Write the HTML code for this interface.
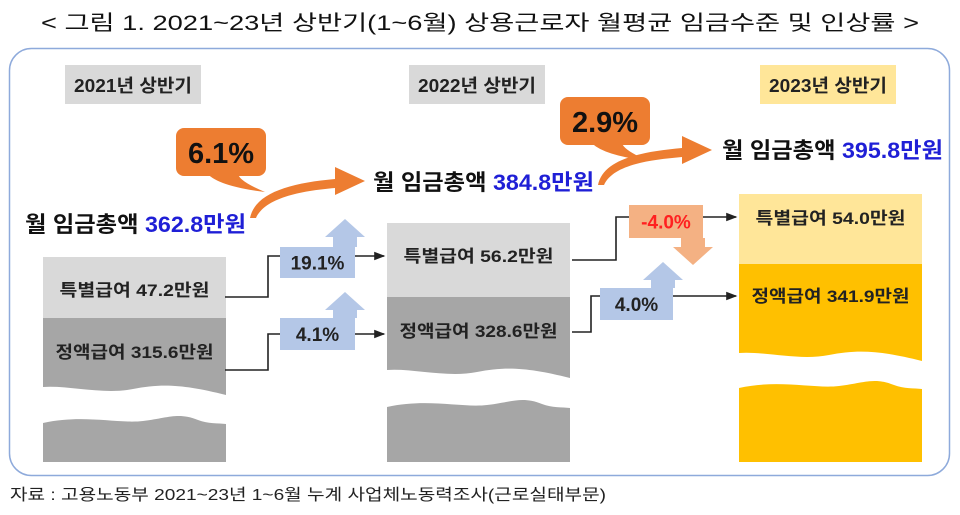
<!DOCTYPE html>
<html><head><meta charset="utf-8"><style>
html,body{margin:0;padding:0;background:#fff;width:960px;height:515px;overflow:hidden}
svg{display:block;font-family:"Liberation Sans","Noto Sans CJK KR",sans-serif}
</style></head><body>
<svg id="chart" width="960" height="515" viewBox="0 0 960 515" xmlns="http://www.w3.org/2000/svg">
<defs>
<marker id="ah" markerWidth="8" markerHeight="8" refX="7" refY="4" orient="auto"><path d="M0,1 L8,4 L0,7 Z" fill="#222"/></marker>
</defs>
<text x="480" y="30" text-anchor="middle" font-size="21" fill="#111" textLength="878" lengthAdjust="spacingAndGlyphs" font-family="'Liberation Sans','WenQuanYi Zen Hei',sans-serif">&lt; 그림 1. 2021~23년 상반기(1~6월) 상용근로자 월평균 임금수준 및 인상률 &gt;</text>
<rect x="9.5" y="48.5" width="940" height="427" rx="22" fill="#fff" stroke="#8eaadb" stroke-width="1.5"/>
<g id="marks"></g>
<text x="10" y="500" font-size="16" fill="#222" textLength="596" lengthAdjust="spacingAndGlyphs" font-family="'Liberation Sans','WenQuanYi Zen Hei',sans-serif">자료 : 고용노동부 2021~23년 1~6월 누계 사업체노동력조사(근로실태부문)</text>
</svg>
<script>
const years = ["2021년 상반기","2022년 상반기","2023년 상반기"];
const totals = [362.8, 384.8, 395.8];
const special = [47.2, 56.2, 54.0];
const regular = [315.6, 328.6, 341.9];
const totalRates = ["6.1%","2.9%"];
const specialRates = ["19.1%","-4.0%"];
const regularRates = ["4.1%","4.0%"];

const NS="http://www.w3.org/2000/svg";
const g=document.getElementById('marks');
function mk(tag,attrs,parent){const e=document.createElementNS(NS,tag);for(const k in attrs)e.setAttribute(k,attrs[k]);(parent||g).appendChild(e);return e;}
function txt(s,attrs){const e=mk('text',attrs);e.textContent=s;return e;}

const colX=[43,387,739], colW=183;
const lblX=[65,409,760];
const lblFill=["#d9d9d9","#d9d9d9","#ffe699"];
const topY=[257,223,194], midY=[318,297,264], waveY=[387,370,353], lowY=[418,402,383];
const lightFill=["#d9d9d9","#d9d9d9","#ffe699"], darkFill=["#a6a6a6","#a6a6a6","#ffc000"];
const totalPos=[[25,232],[373,190],[722,158]];

years.forEach((y,i)=>{
  const lb=mk('rect',{x:lblX[i],y:65,width:136,height:39,fill:lblFill[i]});
  
  
  const lt=txt(y,{x:lblX[i]+68,y:92,'text-anchor':'middle','font-size':18,'font-weight':'bold',fill:'#222',textLength:118,lengthAdjust:'spacingAndGlyphs'});
  
  
  const x=colX[i];
  const sp=mk('rect',{x:x,y:topY[i],width:colW,height:midY[i]-topY[i],fill:lightFill[i]});
  
  
  const w=waveY[i];
  const rg=mk('path',{d:`M${x},${midY[i]} H${x+colW} V${w+8} C${x+colW-40},${w-2} ${x+120},${w-4} ${x+90},${w+2} C${x+60},${w+8} ${x+25},${w-2} ${x},${w} Z`,fill:darkFill[i]});
  
  
  const l=lowY[i];
  const lo=mk('path',{d:`M${x},${l+5} C${x+40},${l-4} ${x+75},${l+6} ${x+100},${l+3} C${x+125},${l} ${x+135},${l-6} ${x+155},${l+2} C${x+165},${l+6} ${x+175},${l+5} ${x+colW},${l+6} V462 H${x} Z`,fill:darkFill[i]});
  
  
  const st=txt(`특별급여 ${special[i].toFixed(1)}만원`,{x:x+colW/2,y:topY[i]+(i==2?30:39),'text-anchor':'middle','font-size':17,'font-weight':'bold',fill:'#222',textLength:150,lengthAdjust:'spacingAndGlyphs'});
  
  
  const rt=txt(`정액급여 ${regular[i].toFixed(1)}만원`,{x:x+colW/2,y:midY[i]+(i==2?38:40),'text-anchor':'middle','font-size':17,'font-weight':'bold',fill:'#222',textLength:158,lengthAdjust:'spacingAndGlyphs'});
  
  
  const tt=mk('text',{x:totalPos[i][0],y:totalPos[i][1],'font-size':22,'font-weight':'bold',fill:'#111',textLength:221,lengthAdjust:'spacingAndGlyphs'});
  
  
  const a=document.createElementNS(NS,'tspan');a.textContent='월 임금총액 ';tt.appendChild(a);
  const b=document.createElementNS(NS,'tspan');b.setAttribute('fill','#1f1fd6');b.textContent=totals[i].toFixed(1)+'만원';tt.appendChild(b);
});

const callX=[176,560], callY=[128,97];
const curve=[[250,218,365,181],[598,185,712,150]];
totalRates.forEach((r,i)=>{
  const [x1,y1,x2,y2]=curve[i];
  const ar=mk('path',{d:`M${x1},${y1} C${x1+5},${y1-25} ${x1+40},${y2+2} ${x2-30},${y2-2} L${x2-30},${y2-14} L${x2},${y2} L${x2-30},${y2+14} L${x2-30},${y2+7} C${x1+50},${y2+10} ${x1+15},${y1-20} ${x1+6},${y1} Z`,fill:'#ed7d31'});
  
  
  const cx=callX[i], cy=callY[i];
  const tail=mk('path',{d:`M${cx+30},${cy+44} Q${cx+40},${cy+58} ${cx+89},${cy+64} Q${cx+60},${cy+52} ${cx+62},${cy+44} Z`,fill:'#ed7d31'});
  
  
  const bx=mk('rect',{x:cx,y:cy,width:90,height:48,rx:8,fill:'#ed7d31'});
  
  
  const t=txt(r,{x:cx+45,y:cy+35,'text-anchor':'middle','font-size':29,'font-weight':'bold',fill:'#111'});
  
  
});

function rateBox(label,bx,by,bw,bh,up,ax,tipY,fill,color,name){
  let p;
  if(up){p=mk('path',{d:`M${ax},${by} V${tipY+18} H${ax-8} L${ax+12},${tipY} L${ax+32},${tipY+18} H${ax+24} V${by} Z`,fill:fill});}
  else{p=mk('path',{d:`M${ax},${by+bh} V${tipY-18} H${ax-8} L${ax+12},${tipY} L${ax+32},${tipY-18} H${ax+24} V${by+bh} Z`,fill:fill});}
  
  
  const r=mk('rect',{x:bx,y:by,width:bw,height:bh,fill:fill});
  
  
  const t=txt(label,{x:bx+bw/2,y:by+bh/2+7,'text-anchor':'middle','font-size':19,'font-weight':'bold',fill:color});
  
  
}
function conn(pts,name){
  const l=mk('polyline',{points:pts,fill:'none',stroke:'#222','stroke-width':1.6});
  
  
}
function arrowLine(x1,y,x2,name){
  const l=mk('line',{x1:x1,y1:y,x2:x2,y2:y,stroke:'#222','stroke-width':1.4,'marker-end':'url(#ah)'});
  
  
}
conn("225,297 268,297 268,256 281,256",'special-connector');
rateBox(specialRates[0],280,247,75,31,true,333,219,'#b4c7e7','#222','special-growth-rate');
arrowLine(355,256,384,'special-arrow-line');
conn("225,370 268,370 268,334 281,334",'regular-connector');
rateBox(regularRates[0],280,318,75,32,true,333,292,'#b4c7e7','#222','regular-growth-rate');
arrowLine(355,334,384,'regular-arrow-line');
conn("572,260 616,260 616,217 630,217",'special-connector');
rateBox(specialRates[1],629,205,74,33,false,681,265,'#f4b183','#ff2020','special-growth-rate');
arrowLine(703,217,736,'special-arrow-line');
conn("572,332 591,332 591,296 601,296",'regular-connector');
rateBox(regularRates[1],600,288,73,32,true,651,262,'#b4c7e7','#222','regular-growth-rate');
arrowLine(673,296,736,'regular-arrow-line');
</script>
</body></html>
